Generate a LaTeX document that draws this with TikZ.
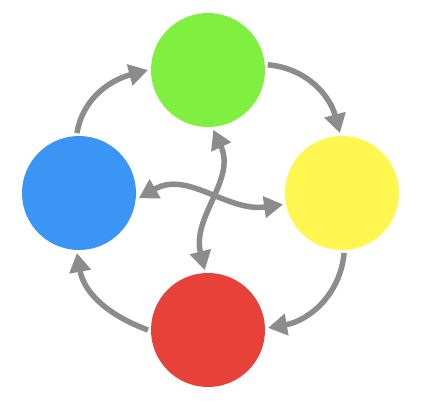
\documentclass[tikz,border=0pt]{standalone}
\usetikzlibrary{arrows.meta}
\definecolor{cgreen}{HTML}{80F040}
\definecolor{cyellow}{HTML}{FFF650}
\definecolor{cred}{HTML}{E8413A}
\definecolor{cblue}{HTML}{3B95F5}
\definecolor{cgray}{HTML}{8C8C8C}
\begin{document}
\begin{tikzpicture}[x=1pt,y=1pt,
  ball/.style={circle, minimum size=114pt, inner sep=0pt, outer sep=3pt},
  link/.style={line width=5.5pt, draw=cgray, -{Triangle[length=19pt,width=21pt]}},
  dlink/.style={line width=5.5pt, draw=cgray, {Triangle[length=19pt,width=21pt]}-{Triangle[length=19pt,width=21pt]}}]
\useasboundingbox (0,0) rectangle (423,400);
\node[ball, fill=cgreen] (g) at (208,330) {};
\node[ball, fill=cyellow] (y) at (342,207) {};
\node[ball, fill=cred] (r) at (208,70) {};
\node[ball, fill=cblue] (b) at (79,207) {};
\draw[link] (g.5) to[out=-5,in=105] (y.92);
\draw[link] (y.272) to[out=-95,in=10] (r.2);
\draw[link] (r.180) to[out=160,in=-80] (b.268);
\draw[link] (b.92) to[out=80,in=195] (g.180);
\draw[dlink] (g.-85) to[out=-65,in=104] (r.93);
\draw[dlink] (b.-5) to[out=30,in=188] (y.191);
\end{tikzpicture}
\end{document}
